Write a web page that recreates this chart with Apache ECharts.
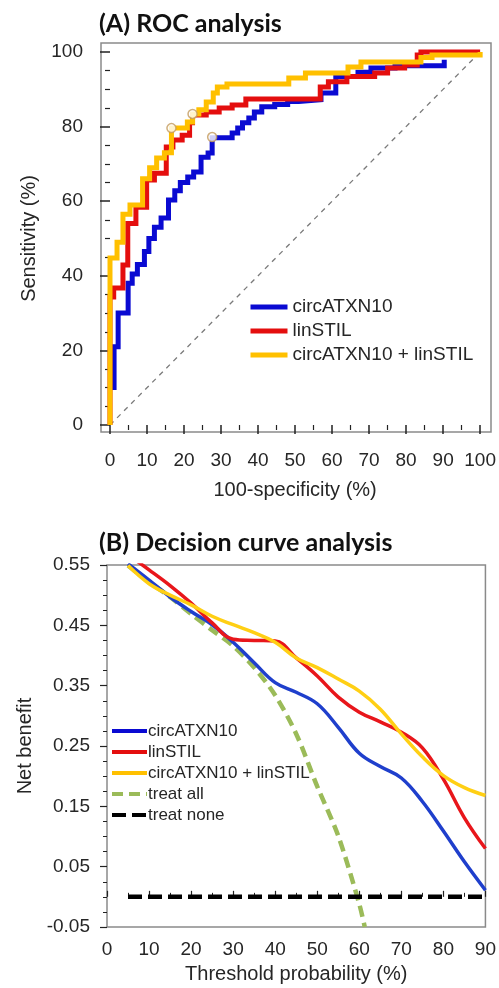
<!DOCTYPE html>
<html><head><meta charset="utf-8">
<script src="https://cdn.jsdelivr.net/npm/echarts@6/dist/echarts.min.js"></script>
<style>html,body{margin:0;padding:0;background:#fff}#c{width:499px;height:988px}</style>
</head><body><div id="c"></div>
<script>
// ---------- (A) ROC analysis data: [100-specificity %, sensitivity %] ----------
const rocNames = ['circATXN10', 'linSTIL', 'circATXN10 + linSTIL'];
const rocBlue = [[1.1,9.4],[1.1,21],[2.2,21],[2.2,30],[4.9,30],[4.9,38],[6,38],[6,40.5],[7.4,40.5],[7.4,43],[9.3,43],[9.3,46.5],[10.5,46.5],[10.5,50],[12,50],[12,53],[13.8,53],[13.8,55.5],[15.8,55.5],[15.8,60.3],[17.5,60.3],[17.5,62.8],[19,62.8],[19,65],[21,65],[21,66.5],[22.6,66.5],[22.6,67.8],[24.6,67.8],[24.6,71.8],[26.5,71.8],[26.5,72.9],[27.6,72.9],[27.6,77],[33,77],[33,78.3],[34.5,78.3],[34.5,79.6],[35.8,79.6],[35.8,81],[37.5,81],[37.5,82.3],[39,82.3],[39,83.9],[41,83.9],[41,85.3],[44.5,85.3],[44.5,85.9],[48,85.9],[48,86.7],[51,86.7],[51,87.2],[57,87.2],[57,89],[61,89],[61,93.4],[67,93.4],[67,94.6],[70.5,94.6],[70.5,95.7],[77,95.7],[77,96.3],[90.3,96.3],[90.3,97.9]];
const rocRed = [[0,0],[0,34.3],[1,34.3],[1,36.7],[3.5,36.7],[3.5,42.9],[4.8,42.9],[4.8,54],[7,54],[7,58.4],[9.9,58.4],[9.9,65.7],[12,65.7],[12,67.5],[15.2,67.5],[15.2,74.5],[17,74.5],[17,76.4],[19.5,76.4],[19.5,77.7],[21.5,77.7],[21.5,81],[22.3,81],[22.3,83.1],[26,83.1],[26,83.9],[29.5,83.9],[29.5,85],[33,85],[33,85.8],[36.7,85.8],[36.7,87.4],[56.8,87.4],[56.8,90.6],[59,90.6],[59,92],[64,92],[64,93.4],[71.5,93.4],[71.5,94.4],[75,94.4],[75,95.7],[79.6,95.7],[79.6,96.5],[83,96.5],[83,99.2],[84,99.2],[84,100],[100,100]];
const rocYellow = [[0,0],[0,44.8],[1.9,44.8],[1.9,49],[3.5,49],[3.5,56.5],[5.4,56.5],[5.4,59],[8.8,59],[8.8,66],[10.7,66],[10.7,69],[12.6,69],[12.6,71.6],[14.7,71.6],[14.7,73],[16.6,73],[16.6,79.6],[20.9,79.6],[20.9,81.2],[22.3,81.2],[22.3,83.4],[24,83.4],[24,84.5],[26,84.5],[26,86.6],[27.9,86.6],[27.9,89],[29,89],[29,90.6],[31.6,90.6],[31.6,91.4],[48.3,91.4],[48.3,93],[52.8,93],[52.8,94.4],[64.3,94.4],[64.3,96],[67.8,96],[67.8,97.3],[84,97.3],[84,98.5],[87,98.5],[87,99.2],[100,99.2],[100,100]];
const rocCutoffs = [[16.6,79.6],[22.3,83.4],[27.6,77.2]];
const rocDiagonal = [[0,0],[100,100]];

// ---------- (B) Decision curve analysis data ----------
const dcaNames = ['circATXN10', 'linSTIL', 'circATXN10 + linSTIL', 'treat all', 'treat none'];
const dcaThresholds = [5,10,15,20,25,30,35,40,45,50,55,60,65,70,75,80,85,90];
const dcaBlue   = [0.552,0.525,0.497,0.473,0.451,0.422,0.388,0.355,0.339,0.320,0.281,0.238,0.216,0.197,0.158,0.109,0.058,0.011];
const dcaRed    = [0.567,0.542,0.516,0.487,0.454,0.427,0.425,0.424,0.396,0.366,0.331,0.306,0.290,0.273,0.247,0.195,0.131,0.080];
const dcaYellow = [0.549,0.519,0.500,0.484,0.465,0.451,0.438,0.422,0.396,0.380,0.361,0.341,0.311,0.270,0.232,0.201,0.181,0.168];
const treatAllX = [5,10,15,20,25,30,35,40,45,50,55,60,61.3];
const treatAllY = [0.549,0.522,0.497,0.469,0.442,0.416,0.380,0.334,0.270,0.183,0.101,-0.012,-0.05];
const treatNoneX = [5,90];
const treatNoneY = [0,0];

const zip = (xs, ys) => xs.map((x, i) => [x, ys[i]]);

const FONT = 'Liberation Sans';
const TXT = '#262626';
const C = {blue:'#0a0ad2', red:'#e40e0e', yellow:'#ffc000'};
const D = {blue:'#1f3fcc', red:'#e8161b', yellow:'#ffcf14', green:'#9bbb59', black:'#000'};

const chart = echarts.init(document.getElementById('c'), null, {renderer:'canvas'});

chart.setOption({
  animation: false,
  backgroundColor: '#fff',
  textStyle: {fontFamily: FONT},
  title: [
    {text: '(A) ROC analysis', left: 99, top: 11, padding: 0,
     textStyle: {fontFamily: 'Lato', fontWeight: 'bold', fontSize: 25, color: '#111'}},
    {text: '(B) Decision curve analysis', left: 99, top: 530, padding: 0,
     textStyle: {fontFamily: 'Lato', fontWeight: 'bold', fontSize: 25, color: '#111'}}
  ],
  graphic: [
    {type: 'rect', shape: {x: 101, y: 43, width: 390, height: 389}, silent: true, z: 0,
     style: {fill: 'none', stroke: '#8a8a8a', lineWidth: 1.5}}
  ],
  legend: [
    {data: rocNames, orient: 'vertical', left: 243, top: 292, itemWidth: 37, itemHeight: 14, itemGap: 4,
     itemStyle: {opacity: 0}, lineStyle: {width: 5},
     textStyle: {fontFamily: FONT, fontSize: 19, color: TXT, lineHeight: 20}},
    {data: dcaNames, orient: 'vertical', left: 105, top: 717, itemWidth: 35, itemHeight: 14, itemGap: 3,
     itemStyle: {opacity: 0}, lineStyle: {width: 4},
     textStyle: {fontFamily: FONT, fontSize: 17, color: TXT, lineHeight: 18, padding: [0,0,0,-4]}}
  ],
  grid: [
    {left: 110, top: 52, width: 373, height: 373, show: false},
    {left: 107, top: 565, width: 383, height: 362, show: true, borderColor: '#8a8a8a', borderWidth: 1.5, backgroundColor: 'transparent'}
  ],
  xAxis: [
    {gridIndex: 0, type: 'value', min: 0, max: 100, interval: 10, offset: 7,
     name: '100-specificity (%)', nameLocation: 'middle', nameGap: 48,
     nameTextStyle: {fontFamily: FONT, fontSize: 20, color: TXT},
     axisLine: {show: false},
     axisTick: {show: true, inside: false, length: 9, lineStyle: {color: '#222', width: 1.5}},
     minorTick: {show: true, splitNumber: 2, length: 5, lineStyle: {color: '#222', width: 1.2}},
     splitLine: {show: false},
     axisLabel: {fontFamily: FONT, fontSize: 19, color: TXT, margin: 19}},
    {gridIndex: 1, type: 'value', min: 0, max: 90, interval: 10,
     name: 'Threshold probability (%)', nameLocation: 'middle', nameGap: 37,
     nameTextStyle: {fontFamily: FONT, fontSize: 20, color: TXT},
     axisLine: {show: false},
     axisTick: {show: true, inside: true, length: 6, lineStyle: {color: '#222', width: 1.2}},
     minorTick: {show: true, splitNumber: 2, length: 4, lineStyle: {color: '#222', width: 1}},
     splitLine: {show: false},
     axisLabel: {fontFamily: FONT, fontSize: 19, color: TXT, margin: 13}}
  ],
  yAxis: [
    {gridIndex: 0, type: 'value', min: 0, max: 100, interval: 20, offset: 9,
     name: 'Sensitivity (%)', nameLocation: 'middle', nameGap: 62,
     nameTextStyle: {fontFamily: FONT, fontSize: 20, color: TXT},
     axisLine: {show: false},
     axisTick: {show: true, inside: false, length: 10, lineStyle: {color: '#222', width: 1.5}},
     minorTick: {show: true, splitNumber: 4, length: 5, lineStyle: {color: '#222', width: 1.2}},
     splitLine: {show: false},
     axisLabel: {fontFamily: FONT, fontSize: 19, color: TXT, margin: 18}},
    {gridIndex: 1, type: 'value', min: -0.05, max: 0.55, interval: 0.1,
     name: 'Net benefit', nameLocation: 'middle', nameGap: 68,
     nameTextStyle: {fontFamily: FONT, fontSize: 20, color: TXT},
     axisLine: {show: false},
     axisTick: {show: true, inside: false, length: 7, lineStyle: {color: '#222', width: 1.2}},
     minorTick: {show: true, splitNumber: 4, length: 4, lineStyle: {color: '#222', width: 1}},
     splitLine: {show: false},
     axisLabel: {fontFamily: FONT, fontSize: 19, color: TXT, margin: 17,
                 formatter: v => (Math.round(v * 100) / 100).toFixed(2)}}
  ],
  series: [
    {type: 'line', name: 'diag', xAxisIndex: 0, yAxisIndex: 0, data: rocDiagonal, symbol: 'none', clip: false,
     lineStyle: {color: '#7a7a7a', width: 1.3, type: [5, 5]}, z: 1},
    {type: 'line', name: rocNames[0], xAxisIndex: 0, yAxisIndex: 0, data: rocBlue, symbol: 'none', clip: false,
     lineStyle: {color: C.blue, width: 5, join: 'miter'}, itemStyle: {color: C.blue}, z: 2},
    {type: 'line', name: rocNames[1], xAxisIndex: 0, yAxisIndex: 0, data: rocRed, symbol: 'none', clip: false,
     lineStyle: {color: C.red, width: 5, join: 'miter'}, itemStyle: {color: C.red}, z: 3},
    {type: 'line', name: rocNames[2], xAxisIndex: 0, yAxisIndex: 0, data: rocYellow, symbol: 'none', clip: false,
     lineStyle: {color: C.yellow, width: 5, join: 'miter'}, itemStyle: {color: C.yellow}, z: 4},
    {type: 'scatter', name: 'cutoff', xAxisIndex: 0, yAxisIndex: 0, data: rocCutoffs, symbol: 'circle', symbolSize: 9,
     itemStyle: {color: '#fff', borderColor: '#c39a5c', borderWidth: 1.5}, z: 6},

    {type: 'line', name: dcaNames[3], xAxisIndex: 1, yAxisIndex: 1, data: zip(treatAllX, treatAllY), symbol: 'none', smooth: 0.3,
     lineStyle: {color: D.green, width: 4.5, type: [11, 6]}, itemStyle: {color: D.green}, z: 2},
    {type: 'line', name: dcaNames[4], xAxisIndex: 1, yAxisIndex: 1, data: zip(treatNoneX, treatNoneY), symbol: 'none',
     lineStyle: {color: D.black, width: 4.5, type: [14, 6]}, itemStyle: {color: D.black}, z: 2},
    {type: 'line', name: dcaNames[0], xAxisIndex: 1, yAxisIndex: 1, data: zip(dcaThresholds, dcaBlue), symbol: 'none', smooth: 0.4,
     lineStyle: {color: D.blue, width: 3.5}, itemStyle: {color: D.blue}, z: 3},
    {type: 'line', name: dcaNames[1], xAxisIndex: 1, yAxisIndex: 1, data: zip(dcaThresholds, dcaRed), symbol: 'none', smooth: 0.4,
     lineStyle: {color: D.red, width: 3.5}, itemStyle: {color: D.red}, z: 4},
    {type: 'line', name: dcaNames[2], xAxisIndex: 1, yAxisIndex: 1, data: zip(dcaThresholds, dcaYellow), symbol: 'none', smooth: 0.4,
     lineStyle: {color: D.yellow, width: 3.5}, itemStyle: {color: D.yellow}, z: 5}
  ]
});
</script></body></html>
